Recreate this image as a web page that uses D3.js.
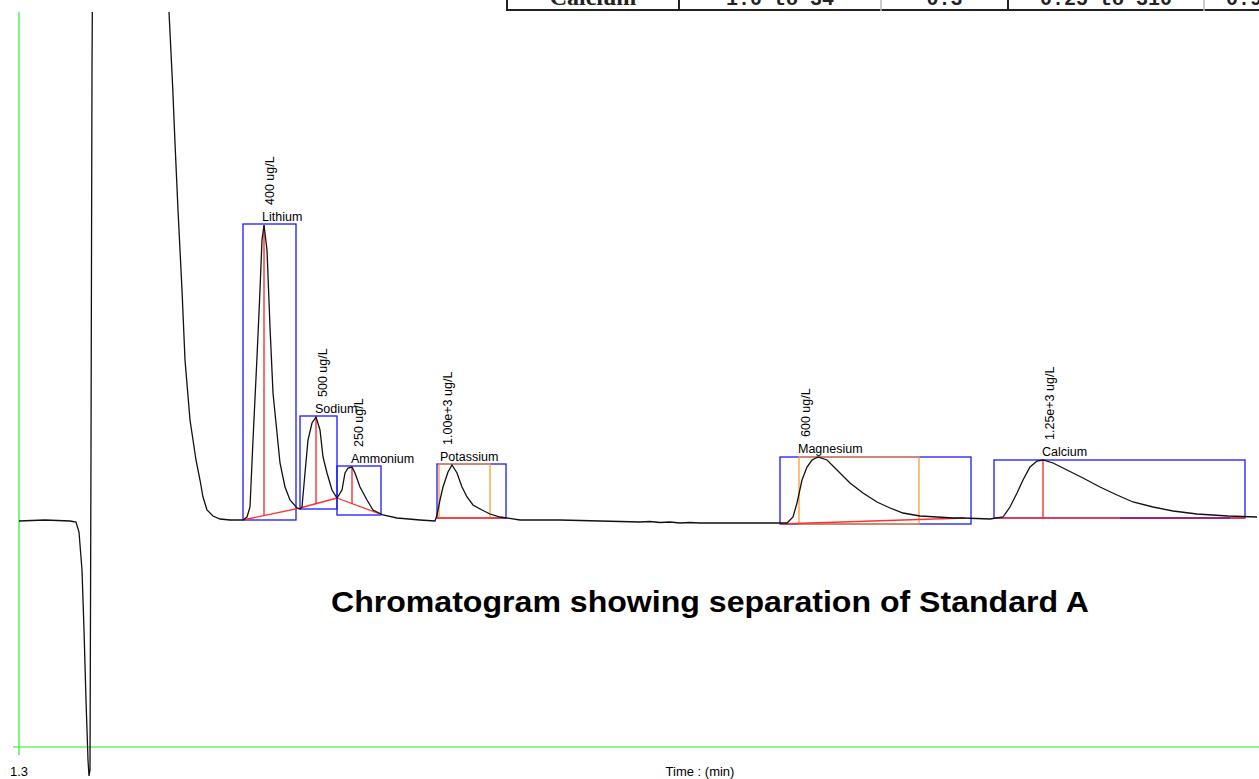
<!DOCTYPE html>
<html>
<head>
<meta charset="utf-8">
<script src="https://d3js.org/d3.v7.min.js"></script>
<style>
  body { margin: 0; background: #fff; }
  #dataviz { width: 1259px; height: 779px; overflow: hidden; }
  text { font-family: "Liberation Sans", Arial, sans-serif; }
</style>
</head>
<body>
<div id="dataviz"></div>
<script>
// chromatogram trace: [time (min), signal]
var traceTime = [1.3, 1.625, 1.9375, 2.0125, 2.05, 2.0875, 2.1125, 2.1375, 2.1625, 2.175, 2.1875, 2.2, 2.2125, 2.225,
    2.6875, 3.15, 3.175, 3.221, 3.25, 3.2875, 3.3375, 3.375, 3.4375, 3.5125, 3.5625, 3.6, 3.65, 3.725, 3.8125, 3.9375, 4.1,
    4.15, 4.1875, 4.225, 4.275, 4.3125, 4.3375, 4.3625, 4.4, 4.4375, 4.475, 4.525, 4.5625, 4.625, 4.6875, 4.775, 4.8125,
    4.8375, 4.875, 4.9125, 4.9625, 5.0125, 5.0625, 5.1, 5.15, 5.2125, 5.275,
    5.3375, 5.375, 5.4125, 5.4625, 5.5, 5.5625, 5.65, 5.725, 5.85, 6.025, 6.3125, 6.5,
    6.525, 6.5625, 6.6, 6.6625, 6.7125, 6.775, 6.8375, 6.9, 6.975, 7.0875, 7.1875, 7.3125, 7.4, 7.5625,
    8.0625, 8.5625, 9.0625, 9.1875, 9.3125, 9.4375, 9.5625, 9.6875, 9.8125, 10.0625, 10.4375, 10.9,
    10.975, 11.025, 11.0875, 11.15, 11.2125, 11.2875, 11.4, 11.525, 11.6875, 11.85, 12.025, 12.1875, 12.35, 12.5625, 12.775, 12.975, 13.1, 13.4375,
    13.6, 13.6875, 13.775, 13.85, 13.9375, 14.025, 14.1, 14.225, 14.4, 14.6, 14.8125, 15.025, 15.225, 15.475, 15.725, 16.025, 16.4125, 16.775];
var traceSignal = [0, 0.01, 0, -0.01, -0.11, -0.49, -1.09, -1.79, -2.39, -2.55, -2.49, 0.71, 4.54, 6.21,
    9.21, 5.81, 5.09, 4.34, 3.78, 3.11, 2.31, 1.61, 1.01, 0.61, 0.41, 0.24, 0.11, 0.05, 0.02, 0.01, 0.01,
    0.04, 0.14, 0.81, 1.64, 2.31, 2.81, 2.96, 2.71, 1.94, 1.28, 0.88, 0.58, 0.34, 0.21, 0.13, 0.12,
    0.14, 0.48, 0.81, 0.98, 1.04, 0.91, 0.64, 0.48, 0.31, 0.23,
    0.31, 0.48, 0.53, 0.54, 0.48, 0.34, 0.21, 0.11, 0.06, 0.03, 0.01, 0,
    0.06, 0.21, 0.34, 0.49, 0.56, 0.48, 0.34, 0.24, 0.16, 0.11, 0.07, 0.04, 0.03, 0.01,
    0.01, 0, -0.01, -0.005, -0.015, -0.01, -0.02, -0.015, -0.02, -0.02, -0.02, -0.02,
    0.04, 0.18, 0.41, 0.54, 0.61, 0.64, 0.61, 0.51, 0.38, 0.28, 0.19, 0.13, 0.08, 0.05, 0.04, 0.03, 0.03, 0.02,
    0.04, 0.14, 0.28, 0.41, 0.54, 0.60, 0.61, 0.58, 0.51, 0.43, 0.34, 0.26, 0.19, 0.14, 0.10, 0.07, 0.05, 0.04];

// peak table
var peakNames = ["Lithium", "Sodium", "Ammonium", "Potassium", "Magnesium", "Calcium"];
var peakConc = ["400 ug/L", "500 ug/L", "250 ug/L", "1.00e+3 ug/L", "600 ug/L", "1.25e+3 ug/L"];
var peakApexTime = [4.3625, 5.0125, 5.4625, 6.7125, 11.2875, 14.1];
var peakApexSignal = [2.96, 1.04, 0.54, 0.56, 0.64, 0.61];
var peakMarked = [true, true, true, false, false, true];
var labelTime = [4.35, 5.0125, 5.4625, 6.575, 11.05, 14.1];
// integration windows (blue)
var winStart = [4.1, 4.8125, 5.275, 6.525, 10.8125, 13.4875];
var winEnd = [4.7625, 5.275, 5.825, 7.3875, 13.2, 16.625];
var winTop = [2.97, 1.05, 0.55, 0.57, 0.64, 0.61];
var winBottom = [0.01, 0.12, 0.06, 0.03, -0.03, 0.03];
// second windows (orange), only potassium and magnesium
var orangePeaks = [3, 4];
var orangeStart = [6.55, 11.05];
var orangeEnd = [7.1875, 12.55];
// baselines (red)
var baseStartTime = [4.1, 4.8125, 5.275, 6.525, 10.8125, 13.4875];
var baseStartSignal = [0.01, 0.13, 0.23, 0.03, -0.03, 0.03];
var baseEndTime = [4.8125, 5.275, 5.8125, 7.3875, 13.125, 16.625];
var baseEndSignal = [0.13, 0.23, 0.07, 0.03, 0.03, 0.03];
// calcium tail baseline segment (purple)
var tailTime = [15.0625, 16.4375];
var tailSignal = [0.03, 0.03];

// table row cut off at the top of the page
var tableCells = ["Calcium", "1.0 to 34", "0.3", "0.25 to 310", "0.999"];
var xTicks = [1.3];

// set the dimensions and margins of the graph
var margin = { top: 12, right: 0, bottom: 32, left: 19 },
    width = 1259 - margin.left - margin.right,
    height = 779 - margin.top - margin.bottom;

var root = d3.select("#dataviz")
    .append("svg")
    .attr("width", width + margin.left + margin.right)
    .attr("height", height + margin.top + margin.bottom);

var svg = root.append("g")
    .attr("transform", "translate(" + margin.left + "," + margin.top + ")");

var x = d3.scaleLinear().domain([1.3, 16.8]).range([0, width]);
var y = d3.scaleLinear().domain([-2.26, 5.09]).range([height, 0]);

var green = "#22ee22";

// axes: plain green lines only
var xAxis = svg.append("g")
    .attr("transform", "translate(0," + height + ")")
    .call(d3.axisBottom(x).tickValues([]).tickSizeOuter(0));
xAxis.select(".domain").attr("stroke", green).attr("stroke-width", 1.2)
    .attr("d", "M-6,0H" + width);

var yAxis = svg.append("g")
    .call(d3.axisLeft(y).tickValues([]).tickSizeOuter(0));
yAxis.select(".domain").attr("stroke", green).attr("stroke-width", 1.2)
    .attr("d", "M0,0V" + (height + 8));

svg.selectAll(".xtick")
    .data(xTicks)
    .enter().append("text")
    .attr("x", function (d) { return x(d) - 9; })
    .attr("y", height + 29)
    .attr("font-size", "13px")
    .text(function (d) { return d3.format(".1f")(d); });

svg.append("text")
    .attr("x", 700 - margin.left)
    .attr("y", height + 29)
    .attr("text-anchor", "middle")
    .attr("font-size", "13px")
    .text("Time : (min)");

// clip so the off-scale solvent peak stops at the top
svg.append("clipPath").attr("id", "plotclip")
    .append("rect").attr("x", -margin.left).attr("y", 0)
    .attr("width", width + margin.left).attr("height", height + margin.bottom);

var trace = traceTime.map(function (t, i) { return [t, traceSignal[i]]; });

// integration windows
svg.selectAll(".win")
    .data(peakNames)
    .enter().append("rect")
    .attr("x", function (d, i) { return x(winStart[i]); })
    .attr("y", function (d, i) { return y(winTop[i]); })
    .attr("width", function (d, i) { return x(winEnd[i]) - x(winStart[i]); })
    .attr("height", function (d, i) { return y(winBottom[i]) - y(winTop[i]); })
    .attr("fill", "none")
    .attr("stroke", "#1a1aff")
    .attr("stroke-width", 1.3);

svg.selectAll(".owin")
    .data(orangePeaks)
    .enter().append("rect")
    .attr("x", function (d, i) { return x(orangeStart[i]); })
    .attr("y", function (d) { return y(winTop[d]); })
    .attr("width", function (d, i) { return x(orangeEnd[i]) - x(orangeStart[i]); })
    .attr("height", function (d) { return y(winBottom[d]) - y(winTop[d]); })
    .attr("fill", "none")
    .attr("stroke", "#ff9a2e")
    .attr("stroke-width", 1.3);

// red baselines
svg.selectAll(".base")
    .data(peakNames)
    .enter().append("line")
    .attr("x1", function (d, i) { return x(baseStartTime[i]); })
    .attr("y1", function (d, i) { return y(baseStartSignal[i]); })
    .attr("x2", function (d, i) { return x(baseEndTime[i]); })
    .attr("y2", function (d, i) { return y(baseEndSignal[i]); })
    .attr("stroke", "#ff3030")
    .attr("stroke-width", 1.3);

svg.append("line")
    .attr("x1", x(tailTime[0])).attr("y1", y(tailSignal[0]))
    .attr("x2", x(tailTime[1])).attr("y2", y(tailSignal[1]))
    .attr("stroke", "#8a1a8a")
    .attr("stroke-width", 1.5);

// drop lines from apex to baseline
function baseAt(i, t) {
    var f = (t - baseStartTime[i]) / (baseEndTime[i] - baseStartTime[i]);
    return baseStartSignal[i] + f * (baseEndSignal[i] - baseStartSignal[i]);
}
svg.selectAll(".drop")
    .data(peakNames.filter(function (d, i) { return peakMarked[i]; }))
    .enter().append("line")
    .each(function (d) {
        var i = peakNames.indexOf(d);
        d3.select(this)
            .attr("x1", x(peakApexTime[i])).attr("y1", y(peakApexSignal[i]))
            .attr("x2", x(peakApexTime[i])).attr("y2", y(baseAt(i, peakApexTime[i])));
    })
    .attr("stroke", "#ff2020")
    .attr("stroke-width", 1.3);

// the trace
svg.append("path")
    .datum(trace)
    .attr("clip-path", "url(#plotclip)")
    .attr("fill", "none")
    .attr("stroke", "#111")
    .attr("stroke-width", 1.3)
    .attr("d", d3.line()
        .x(function (d) { return x(d[0]); })
        .y(function (d) { return y(d[1]); })
    );

// peak names and amounts
svg.selectAll(".pname")
    .data(peakNames)
    .enter().append("text")
    .attr("x", function (d, i) { return x(labelTime[i]) - 1; })
    .attr("y", function (d, i) { return y(peakApexSignal[i]) - 4; })
    .attr("font-size", "12.5px")
    .text(function (d) { return d; });

svg.selectAll(".pconc")
    .data(peakConc)
    .enter().append("text")
    .attr("transform", function (d, i) {
        return "translate(" + (x(labelTime[i]) + 11) + "," + (y(peakApexSignal[i]) - 20) + ") rotate(-90)";
    })
    .attr("font-size", "12.5px")
    .text(function (d) { return d; });

// caption
root.append("text")
    .attr("x", 710)
    .attr("y", 612)
    .attr("text-anchor", "middle")
    .attr("font-size", "30px")
    .attr("font-weight", "bold")
    .attr("textLength", 758)
    .attr("lengthAdjust", "spacingAndGlyphs")
    .text("Chromatogram showing separation of Standard A");

// table row peeking in at the top
var colEdges = [507, 679, 881, 1008, 1204, 1300];
var colDark = [true, true, false, true, false, false];
var table = root.append("g");
table.append("line")
    .attr("x1", colEdges[0]).attr("x2", 1259)
    .attr("y1", 10).attr("y2", 10)
    .attr("stroke", "#222").attr("stroke-width", 2);
table.selectAll(".col")
    .data(colEdges.slice(0, 5))
    .enter().append("line")
    .attr("x1", function (d) { return d; }).attr("x2", function (d) { return d; })
    .attr("y1", -2).attr("y2", 11)
    .attr("stroke", function (d, i) { return colDark[i] ? "#222" : "#bbb"; })
    .attr("stroke-width", function (d, i) { return colDark[i] ? 2 : 1.5; });
table.selectAll(".cell")
    .data(tableCells)
    .enter().append("text")
    .attr("x", function (d, i) { return i == 4 ? colEdges[i] + 22 : (colEdges[i] + colEdges[i + 1]) / 2; })
    .attr("y", 5)
    .attr("text-anchor", function (d, i) { return i == 4 ? "start" : "middle"; })
    .style("font-family", function (d, i) { return i == 0 ? "'Liberation Serif', serif" : "'Liberation Mono', monospace"; })
    .attr("font-size", function (d, i) { return i == 0 ? "24px" : "20px"; })
    .attr("font-weight", "bold")
    .attr("fill", "#222")
    .text(function (d) { return d; });
</script>
</body>
</html>
